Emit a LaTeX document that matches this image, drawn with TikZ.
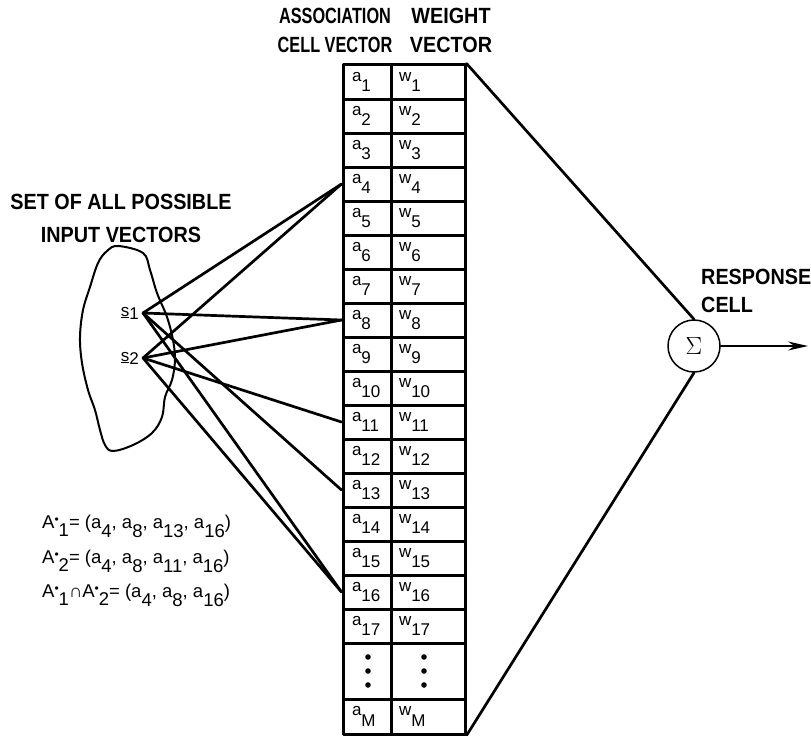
\documentclass[tikz,border=0pt]{standalone}
\usepackage{fontspec}
\setmainfont{Liberation Sans}
\newfontfamily\headfont[FakeStretch=0.74]{Liberation Sans}
\newfontfamily\setfont[FakeStretch=0.9]{Liberation Sans}
\usetikzlibrary{arrows.meta}
% letter with a lowered index
\newcommand\ix[3][0.62em]{#2\raisebox{-#1}{#3}}
\newcommand\st{\raisebox{0.22em}{\fontsize{12bp}{12bp}\selectfont •}}

\begin{document}
\begin{tikzpicture}[x=1bp,y=-1bp,>={Stealth[length=20bp,width=9bp]}, line join=round, line cap=round,
		cell/.style={draw, line width=3bp, minimum height=34bp, inner sep=0pt, font=\fontsize{17bp}{17bp}\selectfont},
		acell/.style={cell, minimum width=48bp},
		wcell/.style={cell, minimum width=74bp},
		head/.style={anchor=base, inner sep=0pt, font=\headfont\bfseries\fontsize{22bp}{24bp}\selectfont},
		wide/.style={head, font=\setfont\bfseries\fontsize{22bp}{24bp}\selectfont},
		formula/.style={anchor=base west, inner sep=0pt, font=\fontsize{18.5bp}{18bp}\selectfont},
		link/.style={line width=2.7bp}]
	\useasboundingbox (0,0) rectangle (811,736);
	\def\xa{367} \def\xw{428} % column centres
	% headings
	\node[head] (hassoc) at (335,24) {ASSOCIATION};
	\node[head] (hcell) at (335,53) {CELL VECTOR};
	\node[wide] (hweight) at (451,24) {WEIGHT};
	\node[wide] (hwvec) at (451,53) {VECTOR};
	\node[wide] (hset) at (121,209) {SET OF ALL POSSIBLE};
	\node[wide] (hinput) at (121,242) {INPUT VECTORS};
	\node[wide, anchor=base west] (hresp) at (701,284) {RESPONSE};
	\node[wide, anchor=base west] (hrcell) at (701,312) {CELL};
	% the two vectors
	\foreach \i in {1,...,17}{
		\node[acell] (a\i) at (\xa,48+34*\i) {\makebox[30bp][l]{\ix{a}{\i}}};
		\node[wcell] (w\i) at (\xw,48+34*\i) {\makebox[58bp][l]{\ix{w}{\i}}};
	}
	\node[acell, minimum height=56bp] (adots) at (\xa,671) {};
	\node[wcell, minimum height=56bp] (wdots) at (\xw,671) {};
	\foreach \y in {657,671,685}{
		\fill (\xa+1,\y) circle (2.8bp);
		\fill (\xw-4,\y) circle (2.8bp);
	}
	\node[acell, minimum height=35bp] (aM) at (\xa,716.5) {\makebox[30bp][l]{\ix{a}{M}}};
	\node[wcell, minimum height=35bp] (wM) at (\xw,716.5) {\makebox[58bp][l]{\ix{w}{M}}};
	% input set
	\draw[line width=2bp] plot[smooth cycle, tension=0.6] coordinates {
		(118,246) (143,253) (150,270) (157,293) (167,317) (173,340) (175,360) (172,380)
		(165,397) (162,417) (152,433) (133,445) (113,451) (105,445) (100,430) (95,410)
		(88,390) (82,363) (80,337) (83,310) (90,287) (98,263) (107,251)};
	\coordinate (s1) at (143,313);
	\coordinate (s2) at (143,358);
	\node[anchor=base east, inner sep=0pt, font=\fontsize{17bp}{17bp}\selectfont] (ls1) at (139,316) {\underline{s}\raisebox{-0.2em}{1}};
	\node[anchor=base east, inner sep=0pt, font=\fontsize{17bp}{17bp}\selectfont] (ls2) at (139,361) {\underline{s}\raisebox{-0.2em}{2}};
	\foreach \t in {4,8,13,16} \draw[link] (s1) -- (a\t.west);
	\foreach \t in {4,8,11,16} \draw[link] (s2) -- (a\t.west);
	% sets
	\node[formula] (A1) at (42,528) {A\st\ix[0.45em]{}{1}= (\ix[0.5em]{a}{4}, \ix[0.5em]{a}{8}, \ix[0.5em]{a}{13}, \ix[0.5em]{a}{16})};
	\node[formula] (A2) at (42,563) {A\st\ix[0.45em]{}{2}= (\ix[0.5em]{a}{4}, \ix[0.5em]{a}{8}, \ix[0.5em]{a}{11}, \ix[0.5em]{a}{16})};
	\node[formula] (A12) at (42,597) {A\st\ix[0.45em]{}{1}∩A\st\ix[0.45em]{}{2}= (\ix[0.5em]{a}{4}, \ix[0.5em]{a}{8}, \ix[0.5em]{a}{16})};
	% response cell
	\node[draw, circle, line width=1.5bp, minimum size=52bp, inner sep=0pt, font=\fontsize{28bp}{28bp}\selectfont] (sum) at (694,346) {$\Sigma$};
	\draw[link] (w1.north east) -- (sum.north);
	\draw[link] (wM.south east) -- (sum.south);
	\coordinate (out) at (808,346);
	\draw[->, line width=1.8bp] (sum.east) -- (out);
\end{tikzpicture}
\end{document}
